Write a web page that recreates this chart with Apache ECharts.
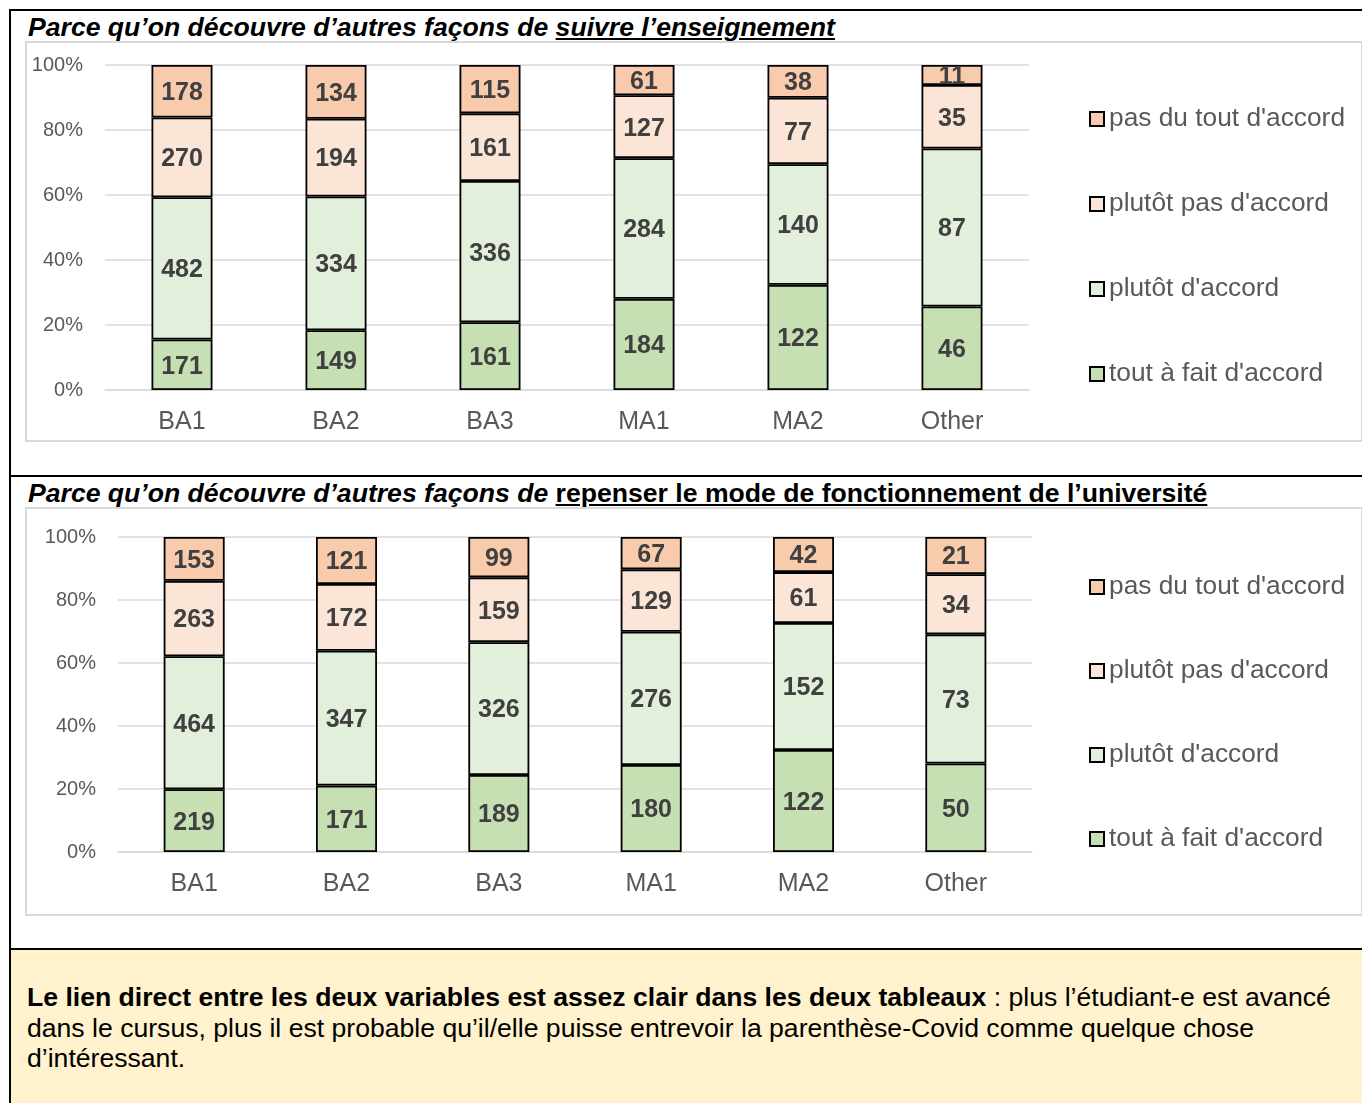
<!DOCTYPE html>
<html><head><meta charset="utf-8">
<script src="https://cdn.jsdelivr.net/npm/echarts@6/dist/echarts.min.js"></script>
<style>
html,body{margin:0;padding:0;background:#fff;font-family:"Liberation Sans",Arial,sans-serif;}
#page{position:relative;width:1362px;height:1103px;overflow:hidden;}
.abs{position:absolute;}
.title{font-size:26.6px;font-weight:bold;color:#000;white-space:nowrap;line-height:30px;}
.frame{border:2px solid #d9d9d9;box-sizing:border-box;background:#fff;}
#chart{position:absolute;left:0;top:0;width:1362px;height:1103px;}
</style></head>
<body><div id="page">
<div class="abs" style="left:10px;top:9px;width:1400px;height:2px;background:#000"></div>
<div class="abs" style="left:9px;top:9px;width:2px;height:1100px;background:#000"></div>
<div class="abs" style="left:10px;top:475px;width:1400px;height:2px;background:#000"></div>
<div class="abs" style="left:11px;top:950px;width:1400px;height:160px;background:#FFF2CC"></div>
<div class="abs" style="left:10px;top:948px;width:1400px;height:2px;background:#000"></div>
<div class="abs frame" style="left:25px;top:41px;width:1338px;height:401px"></div>
<div class="abs frame" style="left:25px;top:507px;width:1338px;height:409px"></div>
<div class="abs title" style="left:28px;top:12px"><i>Parce qu’on découvre d’autres façons de <u>suivre l’enseignement</u></i></div>
<div class="abs title" style="left:28px;top:478px"><i>Parce qu’on découvre d’autres façons de</i> <u>repenser le mode de fonctionnement de l’université</u></div>
<div class="abs" style="left:27px;top:982px;width:1325px;font-size:26.6px;line-height:30.5px;color:#000"><b>Le lien direct entre les deux variables est assez clair dans les deux tableaux</b> : plus l’étudiant-e est avancé dans le cursus, plus il est probable qu’il/elle puisse entrevoir la parenthèse-Covid comme quelque chose d’intéressant.</div>
<div id="chart"></div>
</div>
<script>
var categories = ['BA1','BA2','BA3','MA1','MA2','Other'];
var seriesNames = ["tout à fait d'accord","plutôt d'accord","plutôt pas d'accord","pas du tout d'accord"];
var seriesColors = ['#C6E0B4','#E2EFDA','#FBE5D6','#F8CBAD'];
// Chart 1: suivre l'enseignement
var c1_toutAFait = [171,149,161,184,122,46];
var c1_plutotAccord = [482,334,336,284,140,87];
var c1_plutotPas = [270,194,161,127,77,35];
var c1_pasDuTout = [178,134,115,61,38,11];
// Chart 2: repenser le mode de fonctionnement
var c2_toutAFait = [219,171,189,180,122,50];
var c2_plutotAccord = [464,347,326,276,152,73];
var c2_plutotPas = [263,172,159,129,61,34];
var c2_pasDuTout = [153,121,99,67,42,21];
var yTicks = [0,20,40,60,80,100];

var chart = echarts.init(document.getElementById('chart'), null, {renderer:'canvas'});
var FONT = '"Liberation Sans", Arial, sans-serif';

function buildSeries(sets, gridIdx){
  var totals = categories.map(function(_,i){ return sets.reduce(function(s,a){return s+a[i];},0); });
  return sets.map(function(arr, k){
    return {
      name: seriesNames[k], type:'bar', stack:'s'+gridIdx,
      xAxisIndex:gridIdx, yAxisIndex:gridIdx, barWidth:61,
      itemStyle:{color:seriesColors[k], borderColor:'#000', borderWidth:1.8},
      label:{show:true, position:'inside', offset:[0,2], fontSize:25, fontWeight:'bold', color:'#404040', fontFamily:FONT,
        formatter:function(p){ return p.data.count; }},
      emphasis:{disabled:true},
      data: arr.map(function(v,i){ return {value: v/totals[i]*100, count:v}; })
    };
  });
}

function xAx(g){ return {type:'category', gridIndex:g, data:categories,
  axisLine:{lineStyle:{color:'#d9d9d9', width:1.5}}, axisTick:{show:false},
  axisLabel:{fontSize:25, color:'#595959', fontFamily:FONT, margin:20}}; }
function yAx(g){ return {type:'value', gridIndex:g, min:0, max:100, interval:20,
  axisLine:{show:false}, axisTick:{show:false},
  splitLine:{lineStyle:{color:'#d9d9d9', width:1.5}},
  axisLabel:{fontSize:20, color:'#595959', fontFamily:FONT, margin:22, formatter:'{value}%'}}; }
function legend(top, gap){ return {orient:'vertical', left:1089, top:top, itemWidth:14, itemHeight:14, itemGap:gap,
  icon:'rect', selectedMode:false, padding:0,
  data: seriesNames.slice().reverse(),
  textStyle:{fontSize:26.3, color:'#595959', fontFamily:FONT, lineHeight:26}}; }

chart.setOption({
  animation:false,
  grid:[{left:105, top:65, width:924, height:325},
        {left:118, top:537, width:914, height:315}],
  xAxis:[xAx(0), xAx(1)],
  yAxis:[yAx(0), yAx(1)],
  legend:[legend(106, 59), legend(574, 58)],
  series: buildSeries([c1_toutAFait,c1_plutotAccord,c1_plutotPas,c1_pasDuTout],0)
    .concat(buildSeries([c2_toutAFait,c2_plutotAccord,c2_plutotPas,c2_pasDuTout],1))
});
</script>
</body></html>
